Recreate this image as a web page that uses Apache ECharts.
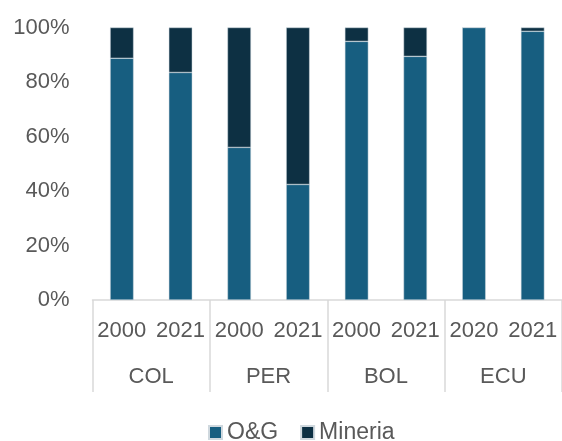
<!DOCTYPE html>
<html><head><meta charset="utf-8">
<script src="https://cdn.jsdelivr.net/npm/echarts@6/dist/echarts.min.js"></script>
<style>html,body{margin:0;padding:0;background:#fff}#c{width:562px;height:441px}</style>
</head><body><div id="c"></div>
<script>
const years = ['2000','2021','2000','2021','2000','2021','2020','2021'];
const countries = ['COL','PER','BOL','ECU'];
const og = [88.7, 83.5, 56.0, 42.4, 94.9, 89.4, 100, 98.6];
const mineria = [11.3, 16.5, 44.0, 57.6, 5.1, 10.6, 0, 1.4];
const yTicks = [0,20,40,60,80,100];

const font = 'Liberation Sans';
const txt = '#595959';
const chart = echarts.init(document.getElementById('c'));
chart.setOption({
  animation:false,
  grid:{left:92.5,right:0,top:27.5,bottom:141},
  legend:{top:416,left:203,icon:'rect',itemWidth:13,itemHeight:13,itemGap:22,
    textStyle:{fontFamily:font,fontSize:23,color:txt},data:['O&G','Mineria']},
  xAxis:[
    {type:'category',data:years,position:'bottom',
     axisLine:{show:true,lineStyle:{color:'#d9d9d9',width:1.5}},
     axisTick:{show:false},
     axisLabel:{interval:0,margin:20,fontFamily:font,fontSize:22,color:txt}},
    {type:'category',data:countries,position:'bottom',
     axisLine:{show:false},
     axisTick:{show:true,length:92,interval:0,lineStyle:{color:'#d9d9d9',width:1.5}},
     axisLabel:{interval:0,margin:66,fontFamily:font,fontSize:22,color:txt}}
  ],
  yAxis:{type:'value',min:0,max:100,interval:20,
    axisLine:{show:false},axisTick:{show:false},splitLine:{show:false},
    axisLabel:{margin:23,fontFamily:font,fontSize:22,color:txt,formatter:v=>v+'%'}},
  series:[
    {name:'O&G',type:'bar',stack:'s',data:og,barWidth:'40%',xAxisIndex:0,
     itemStyle:{color:'#175e80',borderColor:'#cfd8de',borderWidth:0.5}},
    {name:'Mineria',type:'bar',stack:'s',data:mineria,barWidth:'40%',xAxisIndex:0,
     itemStyle:{color:'#0d3043',borderColor:'#cfd8de',borderWidth:0.5}}
  ]
});
</script></body></html>
